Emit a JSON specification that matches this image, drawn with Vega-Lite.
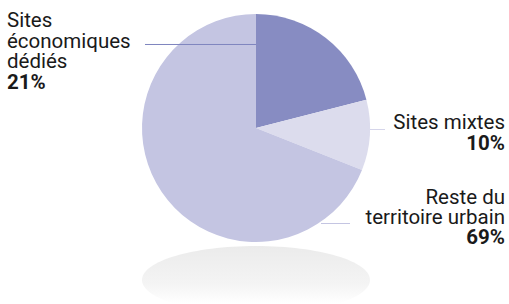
{
  "$schema": "https://vega.github.io/schema/vega-lite/v6.json",
  "width": 509,
  "height": 304,
  "autosize": "none",
  "padding": 0,
  "background": "white",
  "config": {"view": {"stroke": null}, "text": {"font": "Roboto", "fontSize": 20.5, "letterSpacing": 0.35, "color": "#1a1a1a"}},
  "data": {
    "values": [
      {"categorie": "Sites\néconomiques\ndédiés", "part": 0.21, "rang": 1},
      {"categorie": "Sites mixtes", "part": 0.10, "rang": 2},
      {"categorie": "Reste du\nterritoire urbain", "part": 0.69, "rang": 3}
    ]
  },
  "layer": [
    {
      "transform": [{"filter": "datum.rang == 1"}],
      "mark": {
        "type": "point",
        "shape": "M-1,0C-1,-0.165,-0.552,-0.298,0,-0.298C0.552,-0.298,1,-0.165,1,0C1,0.165,0.552,0.298,0,0.298C-0.552,0.298,-1,0.165,-1,0Z",
        "size": 51984,
        "filled": true,
        "opacity": 1,
        "strokeWidth": 0,
        "fill": {"gradient": "linear", "x1": 0, "y1": 0, "x2": 0, "y2": 1, "stops": [{"offset": 0, "color": "#ebebeb"}, {"offset": 0.55, "color": "#f4f4f4"}, {"offset": 0.85, "color": "#ffffff"}, {"offset": 1, "color": "#ffffff"}]}
      },
      "encoding": {
        "x": {"datum": 0, "type": "quantitative", "scale": {"domain": [-2.24561, 2.2193], "nice": false, "zero": false}, "axis": null},
        "y": {"datum": -1.3333, "type": "quantitative", "scale": {"domain": [-1.54386, 1.12281], "nice": false, "zero": false}, "axis": null}
      }
    },
    {
      "mark": {"type": "arc", "radius": 114},
      "encoding": {
        "theta": {"field": "part", "type": "quantitative", "stack": true},
        "order": {"field": "rang", "type": "quantitative"},
        "color": {"field": "rang", "type": "nominal", "scale": {"domain": [1, 2, 3], "range": ["#878cc2", "#dcdced", "#c4c5e2"]}, "legend": null},
        "x": {"datum": 0, "type": "quantitative", "scale": {"domain": [-2.24561, 2.2193], "nice": false, "zero": false}, "axis": null},
        "y": {"datum": 0, "type": "quantitative", "scale": {"domain": [-1.54386, 1.12281], "nice": false, "zero": false}, "axis": null}
      }
    },
    {
      "transform": [{"filter": "datum.rang == 1"}],
      "mark": {"type": "rule", "color": "#7f85bf", "strokeWidth": 1},
      "encoding": {
        "x": {"datum": -0.9737, "type": "quantitative", "scale": {"domain": [-2.24561, 2.2193], "nice": false, "zero": false}, "axis": null},
        "x2": {"datum": 0},
        "y": {"datum": 0.7325, "type": "quantitative", "scale": {"domain": [-1.54386, 1.12281], "nice": false, "zero": false}, "axis": null}
      }
    },
    {
      "transform": [{"filter": "datum.rang == 2"}],
      "mark": {"type": "rule", "color": "#d5d5ea", "strokeWidth": 1},
      "encoding": {
        "x": {"datum": 1.0, "type": "quantitative", "scale": {"domain": [-2.24561, 2.2193], "nice": false, "zero": false}, "axis": null},
        "x2": {"datum": 1.1316},
        "y": {"datum": -0.01316, "type": "quantitative", "scale": {"domain": [-1.54386, 1.12281], "nice": false, "zero": false}, "axis": null}
      }
    },
    {
      "transform": [{"filter": "datum.rang == 3"}],
      "mark": {"type": "rule", "color": "#c4c5e2", "strokeWidth": 1},
      "encoding": {
        "x": {"datum": 0.5702, "type": "quantitative", "scale": {"domain": [-2.24561, 2.2193], "nice": false, "zero": false}, "axis": null},
        "x2": {"datum": 0.8246},
        "y": {"datum": -0.8377, "type": "quantitative", "scale": {"domain": [-1.54386, 1.12281], "nice": false, "zero": false}, "axis": null}
      }
    },
    {
      "transform": [{"filter": "datum.rang == 1"}],
      "mark": {"type": "text", "align": "left", "baseline": "alphabetic", "lineBreak": "\n", "lineHeight": 20.5},
      "encoding": {
        "text": {"field": "categorie"},
        "x": {"datum": -2.1842, "type": "quantitative", "scale": {"domain": [-2.24561, 2.2193], "nice": false, "zero": false}, "axis": null},
        "y": {"datum": 0.8816, "type": "quantitative", "scale": {"domain": [-1.54386, 1.12281], "nice": false, "zero": false}, "axis": null}
      }
    },
    {
      "transform": [{"filter": "datum.rang == 1"}],
      "mark": {"type": "text", "align": "left", "baseline": "alphabetic", "fontWeight": "bold"},
      "encoding": {
        "text": {"field": "part", "type": "quantitative", "format": ".0%"},
        "x": {"datum": -2.1842, "type": "quantitative", "scale": {"domain": [-2.24561, 2.2193], "nice": false, "zero": false}, "axis": null},
        "y": {"datum": 0.3421, "type": "quantitative", "scale": {"domain": [-1.54386, 1.12281], "nice": false, "zero": false}, "axis": null}
      }
    },
    {
      "transform": [{"filter": "datum.rang == 2"}],
      "mark": {"type": "text", "align": "right", "baseline": "alphabetic", "lineBreak": "\n", "lineHeight": 20.5},
      "encoding": {
        "text": {"field": "categorie"},
        "x": {"datum": 2.1842, "type": "quantitative", "scale": {"domain": [-2.24561, 2.2193], "nice": false, "zero": false}, "axis": null},
        "y": {"datum": -0.00877, "type": "quantitative", "scale": {"domain": [-1.54386, 1.12281], "nice": false, "zero": false}, "axis": null}
      }
    },
    {
      "transform": [{"filter": "datum.rang == 2"}],
      "mark": {"type": "text", "align": "right", "baseline": "alphabetic", "fontWeight": "bold"},
      "encoding": {
        "text": {"field": "part", "type": "quantitative", "format": ".0%"},
        "x": {"datum": 2.1842, "type": "quantitative", "scale": {"domain": [-2.24561, 2.2193], "nice": false, "zero": false}, "axis": null},
        "y": {"datum": -0.1886, "type": "quantitative", "scale": {"domain": [-1.54386, 1.12281], "nice": false, "zero": false}, "axis": null}
      }
    },
    {
      "transform": [{"filter": "datum.rang == 3"}],
      "mark": {"type": "text", "align": "right", "baseline": "alphabetic", "lineBreak": "\n", "lineHeight": 20.3},
      "encoding": {
        "text": {"field": "categorie"},
        "x": {"datum": 2.1842, "type": "quantitative", "scale": {"domain": [-2.24561, 2.2193], "nice": false, "zero": false}, "axis": null},
        "y": {"datum": -0.6667, "type": "quantitative", "scale": {"domain": [-1.54386, 1.12281], "nice": false, "zero": false}, "axis": null}
      }
    },
    {
      "transform": [{"filter": "datum.rang == 3"}],
      "mark": {"type": "text", "align": "right", "baseline": "alphabetic", "fontWeight": "bold"},
      "encoding": {
        "text": {"field": "part", "type": "quantitative", "format": ".0%"},
        "x": {"datum": 2.1842, "type": "quantitative", "scale": {"domain": [-2.24561, 2.2193], "nice": false, "zero": false}, "axis": null},
        "y": {"datum": -1.0219, "type": "quantitative", "scale": {"domain": [-1.54386, 1.12281], "nice": false, "zero": false}, "axis": null}
      }
    }
  ]
}
